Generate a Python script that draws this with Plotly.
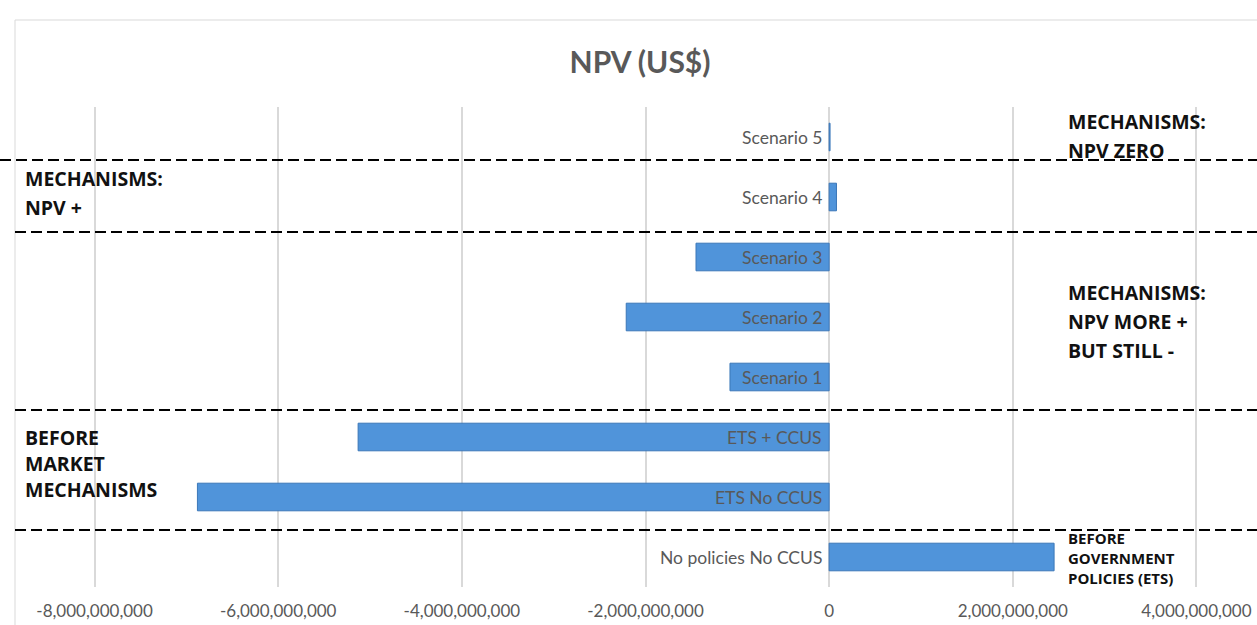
import plotly.graph_objects as go

# ---- data ----
categories = ["No policies No CCUS", "ETS No CCUS", "ETS + CCUS",
              "Scenario 1", "Scenario 2", "Scenario 3", "Scenario 4", "Scenario 5"]
npv_values = [2.45e9, -6.88e9, -5.13e9, -1.08e9, -2.21e9, -1.45e9, 0.08e9, 0.01e9]
tick_values = [-8e9, -6e9, -4e9, -2e9, 0, 2e9, 4e9]
tick_labels = ["-8,000,000,000", "-6,000,000,000", "-4,000,000,000", "-2,000,000,000",
               "0", "2,000,000,000", "4,000,000,000"]
title_text = "NPV (US$)"

W, H = 1257, 625
L, R, T, B = 90, 1201, 107, 587   # plot area in pixels
PW, PH = R - L, B - T


def px(x):
    return (x - L) / PW


def py(y):
    return (B - y) / PH


fig = go.Figure()
fig.add_trace(go.Bar(
    y=categories, x=npv_values, orientation="h",
    width=0.46,
    marker=dict(color="#5094da", line=dict(color="#3b77b8", width=1)),
    hoverinfo="x+y",
))

annotations = []
# category labels next to the zero axis
for c in categories:
    annotations.append(dict(x=0, y=c, xref="x", yref="y", text=c, showarrow=False,
                            xanchor="right", xshift=-5,
                            font=dict(family="Lato, sans-serif", size=17.5, color="#595959")))

BOLD = "Open Sans, sans-serif"


def add_lines(x, ys, lines, size=19.5):
    for yy, t in zip(ys, lines):
        annotations.append(dict(x=px(x), y=py(yy), xref="paper", yref="paper", text="<b>" + t + "</b>",
                                showarrow=False, xanchor="left", yanchor="middle",
                                font=dict(family=BOLD, size=size, color="#111111")))


add_lines(1066, [121, 150], ["MECHANISMS:", "NPV ZERO"])
add_lines(23, [178, 207], ["MECHANISMS:", "NPV +"])
add_lines(1066, [292, 321, 350], ["MECHANISMS:", "NPV MORE +", "BUT STILL -"])
add_lines(23, [437, 463, 489], ["BEFORE", "MARKET", "MECHANISMS"])
add_lines(1066, [538, 558, 578], ["BEFORE", "GOVERNMENT", "POLICIES (ETS)"], size=15)

shapes = []
# chart border
shapes.append(dict(type="line", xref="paper", yref="paper", x0=px(15), x1=px(1257), y0=py(20), y1=py(20),
                   line=dict(color="#d9d9d9", width=1)))
shapes.append(dict(type="line", xref="paper", yref="paper", x0=px(15), x1=px(15), y0=py(20), y1=py(625),
                   line=dict(color="#d9d9d9", width=1)))
# dashed separators
for yy, x0 in [(160, 0), (232, 15), (410, 15), (530, 15)]:
    shapes.append(dict(type="line", xref="paper", yref="paper", x0=px(x0), x1=px(1257), y0=py(yy), y1=py(yy),
                       line=dict(color="#000000", width=2, dash="11px,5px")))

fig.update_layout(
    width=W, height=H,
    margin=dict(l=L, r=W - R, t=T, b=H - B, autoexpand=False),
    paper_bgcolor="white", plot_bgcolor="white",
    title=dict(text="<b>" + title_text + "</b>", x=640 / W, y=1 - 62 / H, xanchor="center", yanchor="middle",
               font=dict(family="Lato, Open Sans, sans-serif", size=30, color="#595959")),
    xaxis=dict(range=[-8.05e9, 4.05e9], tickvals=tick_values, ticktext=tick_labels, automargin=False,
               showgrid=True, gridcolor="#d9d9d9", gridwidth=1.5, zeroline=True, zerolinecolor="#d9d9d9",
               zerolinewidth=1.5, showline=False, ticks="", ticklabelstandoff=12,
               tickfont=dict(family="Lato, sans-serif", size=17, color="#595959")),
    yaxis=dict(showticklabels=False, showgrid=False, zeroline=False, showline=False, automargin=False,
               range=[-0.5, 7.5], categoryorder="array", categoryarray=categories),
    annotations=annotations, shapes=shapes, showlegend=False, bargap=0.5,
)

fig.write_html("out.html", config={"displayModeBar": False},
               post_script="document.body.style.margin='0';document.body.style.overflow='hidden';"
                           "document.documentElement.style.overflow='hidden';")
